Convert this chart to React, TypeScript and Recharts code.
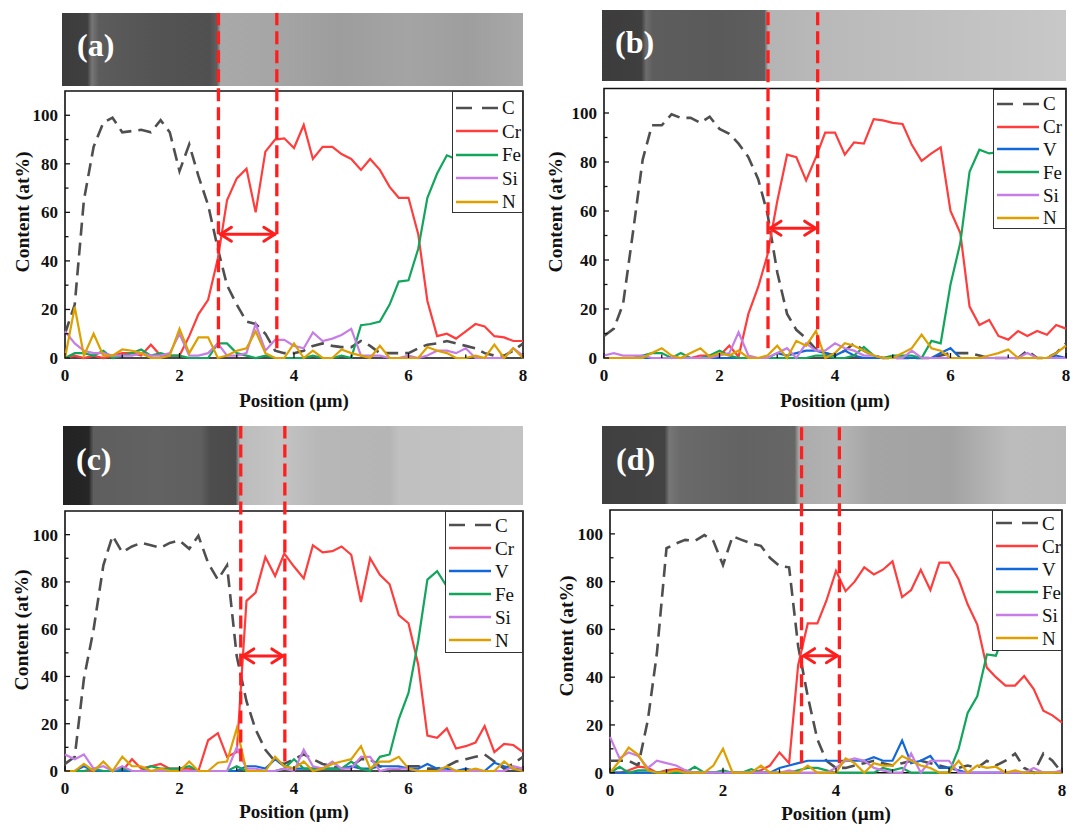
import React from 'react';
import { LineChart, Line, XAxis, YAxis, ReferenceLine, ReferenceArea, Legend } from 'recharts';

// shared sampling positions along the line scan (µm)
const POSITION = [
  0, 0.17, 0.33, 0.5, 0.67, 0.83, 1, 1.17, 1.33, 1.5, 1.67, 1.83, 2, 2.17, 2.33, 2.5, 2.67, 2.83,
  3, 3.17, 3.33, 3.5, 3.67, 3.83, 4, 4.17, 4.33, 4.5, 4.67, 4.83, 5, 5.17, 5.33, 5.5, 5.67, 5.83,
  6, 6.17, 6.33, 6.5, 6.67, 6.83, 7, 7.17, 7.33, 7.5, 7.67, 7.83, 8,
];
const X_TICKS = [0, 1, 2, 3, 4, 5, 6, 7, 8];
const Y_TICKS = [0, 10, 20, 30, 40, 50, 60, 70, 80, 90, 100];

// (a)
const A_C = [10, 22, 65, 87, 97, 99, 93, 93.5, 94, 93, 98, 93, 77, 88, 75, 63, 45, 30, 22, 15, 14, 10, 3, 2, 2, 3, 5, 6, 5, 4.5, 4.5, 7, 5, 2, 2, 2, 2, 4, 5.5, 6, 7, 6, 5, 4, 2, 1, 1, 3, 6];
const A_CR = [0, 1, 0, 1, 0, 1, 2, 2, 1, 5.5, 1, 1, 1, 9, 18, 24, 41, 65, 74, 78, 60, 85, 90, 90.5, 86.5, 96, 82, 87, 87, 84, 82, 77.5, 82, 77.5, 70.5, 66, 66, 51, 23.5, 9, 10, 8, 11, 14, 13, 9, 8.5, 7, 7];
const A_FE = [0, 2, 2, 1, 3, 0, 1, 2, 3.5, 1, 2, 1, 1, 0, 0, 0, 6, 6, 2, 1, 0, 1, 0, 0, 0, 0, 1, 0, 0, 1, 0, 13.5, 14, 15, 22, 31.5, 32, 45, 66, 76, 83.5, 82, 84, 85, 85, 85, 86, 85, 85];
const A_SI = [11, 6, 3, 2, 2, 1, 1, 1, 2, 1, 1, 2, 10, 1, 1, 2, 6, 1, 1, 2, 14, 3, 7.5, 7.5, 5, 4, 10.5, 7, 8, 9.5, 12, 1, 1, 1, 0, 0, 1, 0, 1, 3, 3, 2, 4, 0, 0, 0, 0, 4, 1];
const A_N = [0, 21, 1, 10, 1, 1, 3.5, 3, 2, 0, 0, 1, 12, 2, 8.5, 8.5, 0, 1, 3, 4, 11, 2, 0, 0, 6, 0, 3, 0, 0, 3.5, 2, 1, 0, 5, 0, 0, 0, 0, 4.5, 3, 2, 0, 0, 1, 0, 5.5, 0, 4, 0];

// (b)
const B_C = [9, 12, 22, 51, 81, 95, 95, 99.5, 98, 98, 96, 98.5, 93.5, 91.5, 87.5, 82, 73, 59, 35, 18, 11.5, 8, 3.5, 2, 1, 3, 6, 3, 1, 0, 0, 0, 0, 0, 0, 1, 2, 2, 2, 1, 0, 0, 0, 0, 3, 0, 0, 2, 6];
const B_CR = [0, 0, 0, 0, 0, 0, 0, 0, 0, 0, 1, 1, 1, 5, 0.5, 18, 29, 42, 64, 83, 82, 72.5, 82, 92, 92, 83, 88, 87.5, 97.5, 97, 96, 95.5, 87, 80.5, 83.5, 86, 60, 51, 21, 13.5, 15.5, 9, 7.5, 11, 9, 11, 9.5, 13.5, 12];
const B_V = [0, 0, 0, 0, 0, 0, 0, 0, 0, 0, 0, 0, 0, 0, 0, 0, 0, 0, 2, 1, 2, 3, 3, 2, 1, 3, 1, 0, 0, 0, 0, 0, 0, 0, 0, 2, 4, 0, 0, 0, 0, 0, 0, 0, 0, 0, 0, 1, 0];
const B_FE = [0, 0, 0, 0, 1, 2, 2, 0, 2, 0, 0, 1, 3, 1, 0, 0, 0, 0, 0, 0, 0, 0, 1, 1, 0, 0, 1, 4.5, 1, 0, 1, 1, 1, 0, 7, 6, 30, 47, 76, 85, 83.5, 84, 82, 80, 79, 78, 77, 76, 76];
const B_SI = [1, 2, 1, 1, 1, 0, 0, 0, 0, 0, 0, 0, 1, 2, 10.5, 1, 0, 0, 2, 4, 0, 6, 3, 3, 6, 4, 3, 1, 1, 0, 0, 0, 3, 0, 0, 0, 0, 0, 0, 0, 0, 0, 0, 0, 2, 0, 0, 0, 0];
const B_N = [0, 0, 0, 0, 0, 2, 4, 1, 0, 2, 4, 0.5, 2, 1, 3, 0, 0, 1, 5, 0, 7, 5, 11, 0, 2, 6, 5, 3, 1, 0, 0, 2, 4, 9.5, 4, 3, 0, 0, 0, 0, 1, 2, 3.5, 0, 0, 0, 0, 2, 5];

// (c)
const C_C = [3, 6, 39, 60, 87, 99.5, 92.5, 95, 96.5, 95.5, 94.5, 96.5, 97.5, 94, 99.5, 88, 81, 87, 48.5, 29.5, 17.5, 9, 4, 3, 5, 7, 5, 3, 2, 1, 2, 5, 5, 2, 0, 1, 2, 2, 1, 1, 2, 4, 5, 6, 7, 4, 1, 3, 6];
const C_CR = [0, 0, 0, 0, 0, 0, 0, 5, 1, 2, 3, 1, 1, 1, 0, 13, 16, 6, 8, 72, 75.5, 90.5, 82.5, 92, 86.5, 81.5, 95.5, 92.5, 93, 95, 91.5, 71.5, 90, 83, 79, 66, 62.5, 45, 15, 14, 18, 9.5, 10.5, 12, 19, 8, 11.5, 11, 8];
const C_V = [0, 0, 2, 0, 0, 0, 0, 0, 0, 0, 0, 0, 0, 0, 0, 0, 0, 0, 0, 2, 2, 1, 5, 2, 1, 1, 1, 1, 1, 1, 2, 1, 1, 2, 2, 2, 1, 1, 3, 1, 1, 0, 1, 0, 0, 3.5, 2, 1, 1];
const C_FE = [0, 0, 0, 1, 0, 0, 1, 0, 0, 2, 1, 1, 1, 2, 0, 0, 0, 0, 2, 0, 0, 0, 0, 1, 5, 1, 1, 1, 1, 1, 4, 1, 0, 6, 7, 22, 33, 55, 81, 84.5, 78, 80, 82, 83, 84, 84, 85, 85, 85];
const C_SI = [7, 5, 7, 1, 2, 0, 2, 0, 0, 0, 0, 0, 0, 0, 0, 0, 0, 0, 10, 1, 1, 0, 0, 1, 0, 9, 2, 1, 4, 1, 1, 6, 6, 0, 1, 1, 1, 0, 0, 0, 0, 0, 0, 0, 0, 0, 0, 2, 1];
const C_N = [0, 0, 3, 0, 4, 0, 6, 2, 2, 0, 1, 0, 0, 4, 0, 0, 3.5, 4, 18, 0, 0, 0, 6, 2, 1, 4, 0, 1, 3, 4, 5, 10.5, 1, 4, 4, 6, 1, 0, 0, 0, 2, 0, 0, 1, 0, 0, 4, 1, 0];

// (d)
const D_C = [5, 5, 5, 3, 22, 50, 94, 96, 97.5, 97, 99.5, 97, 87, 99, 97.5, 96, 95, 90, 86.5, 86, 53, 32, 14, 5, 2, 2, 3, 4, 5, 4, 3, 4, 5, 5, 4, 3, 2, 2, 3, 2, 5, 3, 5, 8, 2, 0, 8, 5, 0];
const D_CR = [0, 0, 1, 2.5, 2, 0, 1, 1.5, 1, 0, 0, 0, 0, 0, 0, 0, 1, 3, 8.5, 4, 45, 62.5, 62.5, 72, 84.5, 76, 80, 86, 83, 85, 88.5, 73.5, 76.5, 85, 76.5, 88, 88, 81, 70.5, 62, 44, 40, 36.5, 36.5, 40.5, 35, 26, 24, 21];
const D_V = [0, 0, 0, 0, 0, 0, 0, 0, 0, 0, 0, 0, 0, 0, 0, 0, 0, 0, 2, 3, 4, 5, 5, 5, 5, 5, 5, 5, 6.5, 5, 5, 13.5, 4, 5, 7, 2, 2, 1, 0, 0, 0, 0, 0, 0, 0, 0, 0, 0, 0];
const D_FE = [0, 2.5, 0, 1, 1, 0, 0, 0, 0, 2.5, 0, 0, 1, 0, 0, 1.5, 0, 0, 0, 0, 1, 2, 2, 1, 0, 0, 0, 0, 0, 2, 1, 2, 0, 0, 0, 0, 0, 10, 25, 32, 49.5, 49, 60, 66, 70, 72, 74, 75, 76];
const D_SI = [15, 6, 8.5, 7, 2, 5, 4, 3, 1, 0, 0, 0, 0, 0, 0, 0, 0, 0, 0, 1, 0, 0, 0, 0, 2, 5, 6, 5, 2, 1, 0, 0, 8, 0, 5, 5, 5, 0, 0, 0, 0, 0, 0, 0, 0, 2, 0, 0, 1];
const D_N = [0, 5, 10.5, 7.5, 1, 0, 0, 1, 0, 0, 0, 3, 10, 0, 0, 0, 3, 0, 0, 0, 0, 3, 0, 0, 0, 6, 4, 0, 4, 3, 3, 7, 5, 3, 2, 0, 0, 5, 0, 3, 2, 2.5, 0, 1, 0, 0, 0, 0, 0];

// interface bounds (µm)
const A_BOUNDS = [2.68, 3.7];
const B_BOUNDS = [2.84, 3.7];
const C_BOUNDS = [3.07, 3.84];
const D_BOUNDS = [3.39, 4.06];

const COLORS: Record<string, string> = {
  C: '#4f4f4f',
  Cr: '#ff3d3d',
  V: '#1268d8',
  Fe: '#12a55c',
  Si: '#c77de6',
  N: '#dda000',
};
const RED = '#ff1e1e';
const SERIF = '"Liberation Serif", "Times New Roman", serif';

const PANEL_W = 540;
const PANEL_H = 416;
const Y_AXIS_W = 50;
const X_AXIS_H = 30;

type Box = { l: number; r: number; t: number; b: number };
type PanelCfg = {
  tag: string;
  left: number;
  top: number;
  plot: Box;
  strip: Box & { bg: string };
  tagPos: { x: number; y: number };
  legend: { l: number; t: number; w: number; h: number; pad: number; row: number };
  yTitle: { x: number; y: number };
  xTitleY: number;
  bounds: number[];
  arrowY: number;
  series: Record<string, number[]>;
};

const PANELS: PanelCfg[] = [
  {
    tag: '(a)', left: 0, top: 0,
    plot: { l: 65, r: 523, t: 91, b: 358 },
    strip: {
      l: 62, r: 523, t: 13, b: 86,
      bg: 'linear-gradient(90deg, #3b3b3b 0%, #404040 5.5%, #767676 6.5%, #5c5c5c 8%, #545454 20%, #505050 32%, #5e5e5e 33.6%, #a9a9a9 34.4%, #a6a6a6 45%, #9d9d9d 60%, #a4a4a4 75%, #9e9e9e 88%, #a8a8a8 100%)',
    },
    tagPos: { x: 77, y: 29 },
    legend: { l: 452, t: 91, w: 71, h: 122, pad: 4, row: 23.5 },
    yTitle: { x: 22, y: 212 },
    xTitleY: 400,
    bounds: A_BOUNDS,
    arrowY: 51,
    series: { C: A_C, Cr: A_CR, Fe: A_FE, Si: A_SI, N: A_N },
  },
  {
    tag: '(b)', left: 540, top: 0,
    plot: { l: 64, r: 526, t: 88.5, b: 358 },
    strip: {
      l: 62, r: 526, t: 10, b: 81,
      bg: 'linear-gradient(90deg, #3c3c3c 0%, #3f3f3f 8.5%, #6c6c6c 9.5%, #5d5d5d 11%, #5a5a5a 25%, #5e5e5e 35%, #b4b4b4 35.8%, #b9b9b9 48%, #bdbdbd 62%, #c2c2c2 80%, #c8c8c8 100%)',
    },
    tagPos: { x: 75, y: 26 },
    legend: { l: 453, t: 88.5, w: 73, h: 140.5, pad: 3, row: 22.8 },
    yTitle: { x: 15, y: 212 },
    xTitleY: 400,
    bounds: B_BOUNDS,
    arrowY: 53,
    series: { C: B_C, Cr: B_CR, V: B_V, Fe: B_FE, Si: B_SI, N: B_N },
  },
  {
    tag: '(c)', left: 0, top: 416,
    plot: { l: 65, r: 523, t: 95, b: 355 },
    strip: {
      l: 63, r: 523, t: 10, b: 89,
      bg: 'linear-gradient(90deg, #222222 0%, #262626 5.6%, #5e5e5e 6.6%, #626262 20%, #5f5f5f 30%, #4d4d4d 32%, #4b4b4b 37.5%, #bcbcbc 38.6%, #c4c4c4 47%, #b7b7b7 56%, #b5b5b5 71%, #c0c0c0 73%, #c3c3c3 100%)',
    },
    tagPos: { x: 76, y: 27 },
    legend: { l: 445, t: 95, w: 78, h: 142, pad: 1.5, row: 23 },
    yTitle: { x: 21, y: 214 },
    xTitleY: 395,
    bounds: C_BOUNDS,
    arrowY: 48.7,
    series: { C: C_C, Cr: C_CR, V: C_V, Fe: C_FE, Si: C_SI, N: C_N },
  },
  {
    tag: '(d)', left: 540, top: 416,
    plot: { l: 70, r: 522, t: 94, b: 356.7 },
    strip: {
      l: 62, r: 526, t: 10, b: 88,
      bg: 'linear-gradient(90deg, #404040 0%, #434343 13.5%, #767676 14.5%, #6a6a6a 17%, #636363 30%, #666666 41.5%, #acacac 42.5%, #b3b3b3 52%, #a5a5a5 58%, #a2a2a2 75%, #b0b0b0 82%, #bcbcbc 88%, #bababa 100%)',
    },
    tagPos: { x: 76, y: 27 },
    legend: { l: 452, t: 94, w: 70, h: 141, pad: 0.5, row: 23 },
    yTitle: { x: 26, y: 220 },
    xTitleY: 397,
    bounds: D_BOUNDS,
    arrowY: 49,
    series: { C: D_C, Cr: D_CR, V: D_V, Fe: D_FE, Si: D_SI, N: D_N },
  },
];

const tickText = { fontFamily: SERIF, fontWeight: 700, fontSize: 17, fill: '#111' };

function renderYTick(props: any) {
  const { x, y, payload } = props;
  const major = payload.value % 20 === 0;
  return (
    <g>
      <line x1={x} x2={x + (major ? 5 : 3.5)} y1={y} y2={y} stroke="#111" strokeWidth={1.3} />
      {major && (
        <text x={x - 7} y={y} dy="0.35em" textAnchor="end" {...tickText}>
          {payload.value}
        </text>
      )}
    </g>
  );
}

function renderXTick(props: any) {
  const { x, y, payload } = props;
  const major = payload.value % 2 === 0;
  return (
    <g>
      <line x1={x} x2={x} y1={y} y2={y - (major ? 5 : 3.5)} stroke="#111" strokeWidth={1.3} />
      {major && (
        <text x={x} y={y + 23} textAnchor="middle" {...tickText}>
          {payload.value}
        </text>
      )}
    </g>
  );
}

function arrowShape(props: any) {
  const { x1, y1, x2, y2 } = props;
  const len = 13;
  const half = 7;
  return (
    <g stroke={RED} strokeWidth={3} fill="none" strokeLinecap="round" strokeLinejoin="round">
      <line x1={x1 + 2} y1={y1} x2={x2 - 2} y2={y2} />
      <polyline points={`${x1 + len},${y1 - half} ${x1 + 2},${y1} ${x1 + len},${y1 + half}`} />
      <polyline points={`${x2 - len},${y2 - half} ${x2 - 2},${y2} ${x2 - len},${y2 + half}`} />
    </g>
  );
}

function ScanPanel({ cfg }: { cfg: PanelCfg }) {
  const { plot, strip, legend } = cfg;
  const names = Object.keys(cfg.series);
  const data = POSITION.map((x, i) => {
    const row: Record<string, number> = { x };
    names.forEach((n) => (row[n] = cfg.series[n][i]));
    return row;
  });
  const perUnit = (plot.b - plot.t) / 110;
  const dashTop = (plot.b - strip.t) / perUnit;

  const legendContent = () => (
    <div
      style={{
        width: legend.w,
        height: legend.h,
        boxSizing: 'border-box',
        border: '1.3px solid #333',
        background: '#fff',
        paddingTop: legend.pad,
        fontFamily: SERIF,
        fontSize: 19,
        color: '#111',
      }}
    >
      {names.map((n) => (
        <div key={n} style={{ display: 'flex', alignItems: 'center', height: legend.row }}>
          <svg width={42} height={6} style={{ marginLeft: 3, marginRight: 4 }}>
            <line
              x1={0}
              y1={3}
              x2={42}
              y2={3}
              stroke={COLORS[n]}
              strokeWidth={2.6}
              strokeDasharray={n === 'C' ? '16 10' : undefined}
            />
          </svg>
          <span style={{ lineHeight: '19px' }}>{n}</span>
        </div>
      ))}
    </div>
  );

  return (
    <div style={{ position: 'absolute', left: cfg.left, top: cfg.top, width: PANEL_W, height: PANEL_H }}>
      <div
        style={{
          position: 'absolute',
          left: strip.l,
          top: strip.t,
          width: strip.r - strip.l,
          height: strip.b - strip.t,
          background: strip.bg,
        }}
      >
        <div
          style={{
            position: 'absolute',
            left: cfg.tagPos.x - strip.l,
            top: cfg.tagPos.y - strip.t,
            fontFamily: SERIF,
            fontWeight: 700,
            fontSize: 32,
            lineHeight: '32px',
            color: '#fff',
          }}
        >
          {cfg.tag}
        </div>
      </div>
      <div style={{ position: 'absolute', left: 0, top: 0 }}>
        <LineChart
          width={PANEL_W}
          height={PANEL_H}
          data={data}
          margin={{
            top: plot.t,
            left: plot.l - Y_AXIS_W,
            right: PANEL_W - plot.r,
            bottom: PANEL_H - plot.b - X_AXIS_H,
          }}
        >
          <XAxis
            type="number"
            dataKey="x"
            domain={[0, 8]}
            ticks={X_TICKS}
            interval={0}
            height={X_AXIS_H}
            axisLine={false}
            tickLine={false}
            tickSize={0}
            tickMargin={0}
            tick={renderXTick}
            label={{
              content: () => (
                <text
                  x={(plot.l + plot.r) / 2}
                  y={cfg.xTitleY}
                  dy="0.35em"
                  textAnchor="middle"
                  fontFamily={SERIF}
                  fontWeight={700}
                  fontSize={19}
                  fill="#111"
                >
                  Position (µm)
                </text>
              ),
            }}
          />
          <YAxis
            type="number"
            domain={[0, 110]}
            ticks={Y_TICKS}
            interval={0}
            width={Y_AXIS_W}
            axisLine={false}
            tickLine={false}
            tickSize={0}
            tickMargin={0}
            tick={renderYTick}
            label={{
              content: () => (
                <text
                  x={cfg.yTitle.x}
                  y={cfg.yTitle.y}
                  dy="0.35em"
                  textAnchor="middle"
                  transform={`rotate(-90, ${cfg.yTitle.x}, ${cfg.yTitle.y})`}
                  fontFamily={SERIF}
                  fontWeight={700}
                  fontSize={19.5}
                  fill="#111"
                >
                  Content (at%)
                </text>
              ),
            }}
          />
          {names.map((n) => (
            <Line
              key={n}
              type="linear"
              dataKey={n}
              name={n}
              stroke={COLORS[n]}
              strokeWidth={n === 'C' ? 2.6 : 2.2}
              strokeDasharray={n === 'C' ? '13 7' : undefined}
              dot={false}
              activeDot={false}
              isAnimationActive={false}
            />
          ))}
          <ReferenceArea x1={0} x2={8} y1={0} y2={110} fill="none" stroke="#111" strokeWidth={1.6} />
          {cfg.bounds.map((b) => (
            <ReferenceLine
              key={b}
              segment={[{ x: b, y: 4 }, { x: b, y: dashTop }]}
              ifOverflow="visible"
              stroke={RED}
              strokeWidth={3.3}
              strokeDasharray="13 6"
            />
          ))}
          <ReferenceLine
            segment={[{ x: cfg.bounds[0], y: cfg.arrowY }, { x: cfg.bounds[1], y: cfg.arrowY }]}
            ifOverflow="visible"
            shape={arrowShape}
          />
          <Legend
            layout="vertical"
            align="center"
            verticalAlign="middle"
            content={legendContent}
            wrapperStyle={{ left: legend.l, top: legend.t, width: legend.w, height: legend.h }}
          />
        </LineChart>
      </div>
    </div>
  );
}

export default function App() {
  return (
    <div style={{ position: 'absolute', left: 0, top: 0, width: 1079, height: 832, background: '#fff' }}>
      {PANELS.map((p) => (
        <ScanPanel key={p.tag} cfg={p} />
      ))}
    </div>
  );
}
